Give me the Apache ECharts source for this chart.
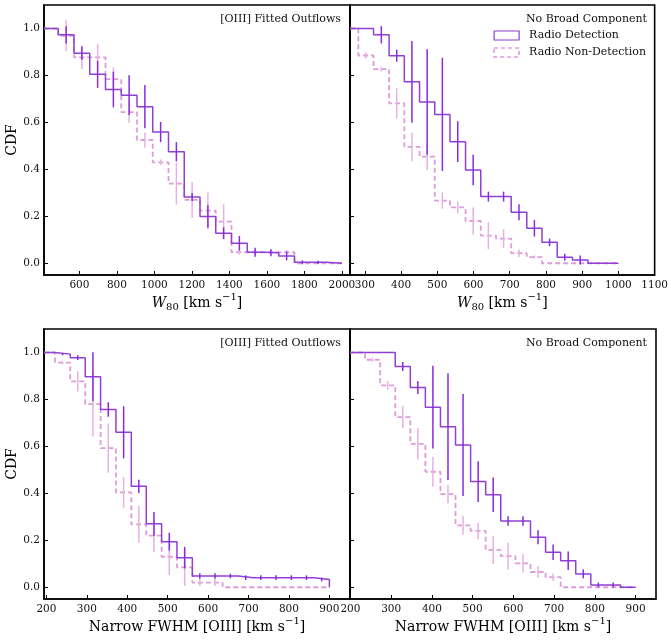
<!DOCTYPE html>
<html><head><meta charset="utf-8">
<script src="https://cdn.jsdelivr.net/npm/echarts@6/dist/echarts.min.js"></script>
<style>html,body{margin:0;padding:0;background:#fff}#c{width:671px;height:640px}</style>
</head><body><div id="c"></div>
<script>
// ---------- data ----------
// Top-left: W80, [OIII] fitted outflows
const tlEdges  = [487,571,655,739,823,907,991,1075,1159,1243,1327,1411,1495,1579,1663,1747,1831,1915,2000];
const tlDetVal = [0.973,0.895,0.805,0.740,0.716,0.667,0.559,0.475,0.282,0.199,0.128,0.085,0.047,0.045,0.031,0.004,0.004,0.0];
const tlDetErr = [0.037,0.028,0.058,0.076,0.085,0.092,0.043,0.041,0.017,0.048,0.025,0.031,0.019,0.015,0.019,0.008,0.007,0];
const tlNonVal = [0.969,0.877,0.877,0.784,0.644,0.525,0.430,0.339,0.270,0.224,0.177,0.047,0.047,0.047,0.047,0.0,0.0,0.0];
const tlNonErr = [0.066,0.050,0.057,0.050,0.046,0.032,0.012,0.089,0.076,0.078,0.074,0.010,0.010,0.010,0.010,0,0,0];
// Top-right: W80, no broad component
const trEdges  = [282,324,367,409,451,493,535,578,620,662,704,747,789,831,873,916,958,1000];
const trDetVal = [1.0,0.973,0.884,0.773,0.687,0.634,0.518,0.397,0.284,0.284,0.217,0.149,0.089,0.026,0.014,0.0,0.0];
const trDetErr = [0,0.037,0.026,0.174,0.225,0.241,0.087,0.065,0.021,0.021,0.034,0.035,0.016,0.015,0.019,0,0];
const trNonVal = [0.885,0.827,0.681,0.496,0.454,0.267,0.238,0.180,0.118,0.105,0.043,0.026,0.0,0.0,0.0,0.0,0.0];
const trNonErr = [0.014,0.010,0.064,0.060,0.057,0.035,0.025,0.057,0.058,0.040,0.016,0.007,0,0,0,0,0];
// Bottom-left: narrow FWHM, [OIII] fitted outflows
const blEdges  = [221,259,296,334,372,410,447,485,523,561,598,636,674,712,749,787,825,862,900];
const blDetVal = [0.993,0.978,0.897,0.757,0.660,0.430,0.270,0.194,0.126,0.048,0.048,0.048,0.041,0.041,0.041,0.041,0.041,0.033];
const blDetErr = [0.005,0.010,0.104,0.031,0.111,0.028,0.051,0.038,0.046,0.012,0.012,0.010,0.010,0.010,0.010,0.010,0.010,0.008];
const blNonVal = [0.957,0.877,0.780,0.593,0.404,0.268,0.220,0.130,0.085,0.020,0.020,0.0,0.0,0.0,0.0,0.0,0.0,0.0];
const blNonErr = [0.007,0.043,0.138,0.105,0.065,0.078,0.071,0.078,0.079,0.015,0.015,0,0,0,0,0,0,0];
// Bottom-right: narrow FWHM, no broad component
const brEdges  = [236,273,310,347,384,421,458,495,532,569,605,642,679,716,753,790,827,863,900];
const brDetVal = [1.0,1.0,0.940,0.851,0.767,0.684,0.606,0.450,0.394,0.282,0.282,0.213,0.149,0.113,0.057,0.010,0.010,0.0];
const brDetErr = [0,0,0.019,0.028,0.176,0.227,0.217,0.087,0.073,0.020,0.020,0.030,0.033,0.039,0.019,0.010,0.010,0];
const brNonVal = [0.969,0.860,0.725,0.611,0.492,0.397,0.264,0.240,0.159,0.133,0.102,0.065,0.043,0.0,0.0,0.0,0.0,0.0];
const brNonErr = [0.008,0.019,0.048,0.067,0.064,0.039,0.040,0.035,0.060,0.057,0.039,0.025,0.016,0,0,0,0,0];

// axis ranges and ticks
const tlRange = [411, 2043];
const trRange = [259, 1100];
const blRange = [194, 951];
const brRange = [199, 950];
const tlXTicks = [600,800,1000,1200,1400,1600,1800,2000];
const trXTicks = [300,400,500,600,700,800,900,1000,1100];
const blXTicks = [200,300,400,500,600,700,800,900];
const brXTicks = [200,300,400,500,600,700,800,900];
const yTicks = [0,0.2,0.4,0.6,0.8,1.0];
const yRange = [-0.05, 1.1];

const panelTexts = ['[OIII] Fitted Outflows', 'No Broad Component', '[OIII] Fitted Outflows', 'No Broad Component'];
const seriesNames = ['Radio Detection', 'Radio Non-Detection'];

// ---------- styling ----------
const FONT = 'DejaVu Serif';
const C_DET_LINE = '#9040d4', C_DET_ERR = '#8a2be2';
const C_NON_LINE = '#e09cda', C_NON_ERR = '#e8b0e3';

function stepData(xmin, edges, vals) {
  const d = [[xmin, 1.0]];
  for (let i = 0; i < vals.length; i++) d.push([edges[i], vals[i]]);
  d.push([edges[edges.length - 1], 0]);
  return d;
}
function errData(edges, vals, errs) {
  const d = [];
  for (let i = 0; i < vals.length; i++) d.push([(edges[i] + edges[i + 1]) / 2, vals[i], errs[i]]);
  return d;
}
function errRender(color) {
  return function (params, api) {
    const e = api.value(2);
    if (!e) return null;
    const x = api.value(0), y = api.value(1);
    const p1 = api.coord([x, y - e]), p2 = api.coord([x, y + e]);
    return { type: 'line', shape: { x1: p1[0], y1: p1[1], x2: p2[0], y2: p2[1] },
      style: { stroke: color, lineWidth: 1.5 } };
  };
}

const panels = [
  { edges: tlEdges, dv: tlDetVal, de: tlDetErr, nv: tlNonVal, ne: tlNonErr, range: tlRange, xt: tlXTicks },
  { edges: trEdges, dv: trDetVal, de: trDetErr, nv: trNonVal, ne: trNonErr, range: trRange, xt: trXTicks },
  { edges: blEdges, dv: blDetVal, de: blDetErr, nv: blNonVal, ne: blNonErr, range: blRange, xt: blXTicks },
  { edges: brEdges, dv: brDetVal, de: brDetErr, nv: brNonVal, ne: brNonErr, range: brRange, xt: brXTicks }
];
const grids = [
  { left: 44, top: 5, width: 306, height: 270 },
  { left: 350, top: 5, width: 306, height: 270 },
  { left: 44, top: 329, width: 306, height: 270 },
  { left: 350, top: 329, width: 306, height: 270 }
];
const xNames = [
  '{i|W}{sub|80}{n| [km s}{sup|−1}{n|]}', '{i|W}{sub|80}{n| [km s}{sup|−1}{n|]}',
  '{n|Narrow FWHM [OIII] [km s}{sup|−1}{n|]}', '{n|Narrow FWHM [OIII] [km s}{sup|−1}{n|]}'
];
const nameRich = {
  n:   { fontFamily: FONT, fontSize: 14, color: '#000', lineHeight: 22, verticalAlign: 'middle' },
  i:   { fontFamily: FONT, fontSize: 14, fontStyle: 'italic', color: '#000', lineHeight: 22, verticalAlign: 'middle' },
  sub: { fontFamily: FONT, fontSize: 10, color: '#000', lineHeight: 10, verticalAlign: 'bottom', padding: [0, 0, 1, 0] },
  sup: { fontFamily: FONT, fontSize: 10, color: '#000', lineHeight: 10, verticalAlign: 'top', padding: [1, 0, 0, 0] }
};

const xAxis = [], yAxis = [], series = [], title = [];
panels.forEach((p, k) => {
  xAxis.push({
    type: 'value', gridIndex: k, min: p.range[0], max: p.range[1],
    name: xNames[k], nameLocation: 'middle', nameGap: 9,
    nameTextStyle: { fontFamily: FONT, fontSize: 14, color: '#000', rich: nameRich },
    axisLine: { show: true, onZero: false, lineStyle: { color: '#000', width: 1.6 } },
    axisTick: { show: true, inside: true, length: 4, customValues: p.xt, lineStyle: { color: '#000', width: 1 } },
    axisLabel: { show: true, customValues: p.xt, margin: 5, fontFamily: FONT, fontSize: 10.5, color: '#111',
      formatter: v => String(Math.round(v)) },
    splitLine: { show: false }
  });
  const isLeft = (k % 2 === 0);
  yAxis.push({
    type: 'value', gridIndex: k, min: yRange[0], max: yRange[1],
    name: isLeft ? 'CDF' : '', nameLocation: 'middle', nameGap: 20,
    nameTextStyle: { fontFamily: FONT, fontSize: 14, color: '#000' },
    axisLine: { show: true, onZero: false, lineStyle: { color: '#000', width: 1.6 } },
    axisTick: { show: true, inside: true, length: 4, customValues: yTicks, lineStyle: { color: '#000', width: 1 } },
    axisLabel: { show: isLeft, customValues: yTicks, margin: 4, fontFamily: FONT, fontSize: 10.5, color: '#111',
      formatter: v => v.toFixed(1) },
    splitLine: { show: false }
  });
  series.push({
    name: seriesNames[1], type: 'line', xAxisIndex: k, yAxisIndex: k, step: 'end', showSymbol: false, symbol: 'none',
    data: stepData(p.range[0], p.edges, p.nv), z: 2,
    lineStyle: { color: C_NON_LINE, width: 1.8, type: [5, 3] }, itemStyle: { color: C_NON_LINE }
  });
  series.push({
    name: 'nonerr' + k, type: 'custom', xAxisIndex: k, yAxisIndex: k, z: 3,
    renderItem: errRender(C_NON_ERR), data: errData(p.edges, p.nv, p.ne), encode: { x: 0, y: 1 }
  });
  series.push({
    name: seriesNames[0], type: 'line', xAxisIndex: k, yAxisIndex: k, step: 'end', showSymbol: false, symbol: 'none',
    data: stepData(p.range[0], p.edges, p.dv), z: 4,
    lineStyle: { color: C_DET_LINE, width: 1.5 }, itemStyle: { color: C_DET_LINE }
  });
  series.push({
    name: 'deterr' + k, type: 'custom', xAxisIndex: k, yAxisIndex: k, z: 5,
    renderItem: errRender(C_DET_ERR), data: errData(p.edges, p.dv, p.de), encode: { x: 0, y: 1 }
  });
  const g = grids[k];
  title.push({
    text: panelTexts[k], right: 671 - (g.left + g.width) + 9, top: g.top + 9, padding: 0,
    textStyle: { fontFamily: FONT, fontSize: 11, fontWeight: 'normal', color: '#111' }
  });
});

const chart = echarts.init(document.getElementById('c'), null, { renderer: 'canvas' });
chart.setOption({
  animation: false,
  backgroundColor: '#fff',
  grid: grids.map(g => Object.assign({ show: true, borderColor: '#000', borderWidth: 1.6, backgroundColor: 'transparent' }, g)),
  title: title,
  legend: {
    orient: 'vertical', right: 25, top: 29, padding: 0, itemGap: 4, align: 'left',
    itemWidth: 25, itemHeight: 9, selectedMode: false,
    textStyle: { fontFamily: FONT, fontSize: 11, color: '#111', lineHeight: 13, padding: [0, 0, 0, 5] },
    data: [
      { name: seriesNames[0], icon: 'rect', itemStyle: { color: 'rgba(255,255,255,0)', borderColor: C_DET_LINE, borderWidth: 1.2 } },
      { name: seriesNames[1], icon: 'rect', itemStyle: { color: 'rgba(255,255,255,0)', borderColor: C_NON_LINE, borderWidth: 1.6, borderType: [4, 3] } }
    ]
  },
  xAxis: xAxis,
  yAxis: yAxis,
  series: series
});
</script>
</body></html>
